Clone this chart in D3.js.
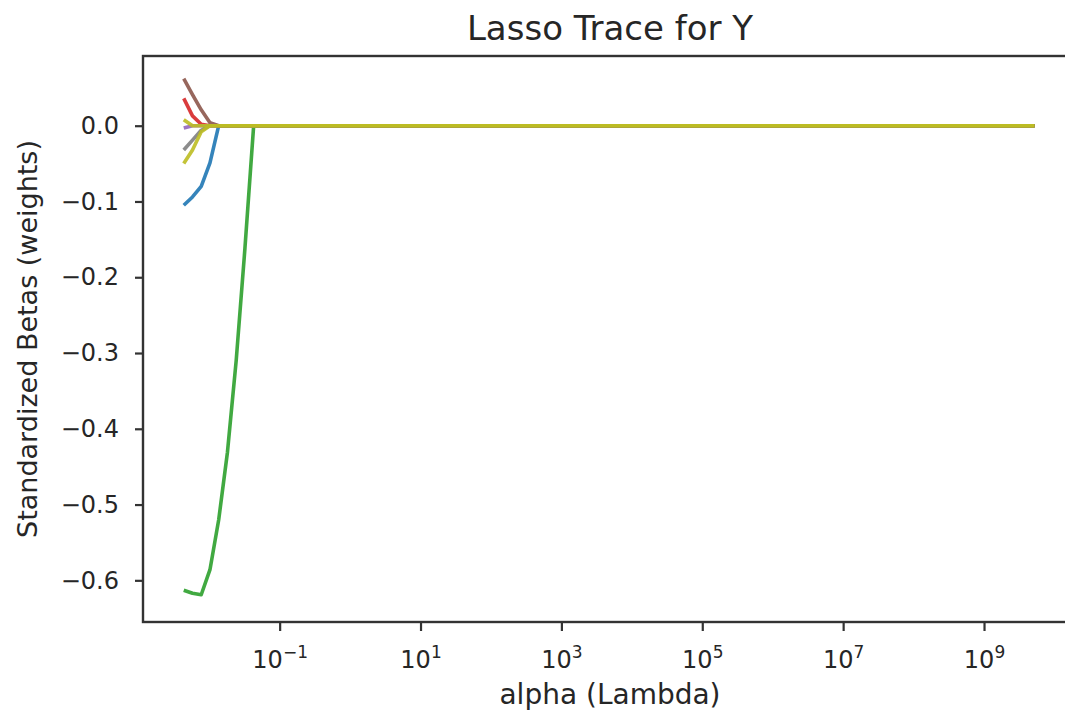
<!DOCTYPE html>
<html>
<head>
<meta charset="utf-8">
<script src="https://cdn.jsdelivr.net/npm/d3@7"></script>
<style>
    body { margin: 0; background: #fff; }
    svg { font-family: "DejaVu Sans", sans-serif; }
</style>
</head>
<body>
<div id="chart"></div>
<script>
// alpha values where the coefficient paths were read
let alphas = [0.00435, 0.00579, 0.0077, 0.01025, 0.01364, 0.01815, 0.02415, 0.03214, 0.04277, 0.0757, 5.2e9]

// coefficient paths (one per predictor that moves off zero), in plot order
let betaBlue   = [-0.105, -0.094, -0.080, -0.049, 0, 0, 0, 0, 0, 0, 0]
let betaGreen  = [-0.613, -0.617, -0.619, -0.586, -0.520, -0.431, -0.310, -0.162, 0, 0, 0]
let betaRed    = [0.036, 0.013, 0.002, 0, 0, 0, 0, 0, 0, 0, 0]
let betaPurple = [-0.003, 0, 0, 0, 0, 0, 0, 0, 0, 0, 0]
let betaBrown  = [0.062, 0.041, 0.021, 0.004, 0, 0, 0, 0, 0, 0, 0]
let betaGray   = [-0.032, -0.019, -0.006, 0, 0, 0, 0, 0, 0, 0, 0]
let betaOliveA = [0.008, 0, 0, 0, 0, 0, 0, 0, 0, 0, 0]
let betaOliveB = [-0.050, -0.032, -0.008, 0, 0, 0, 0, 0, 0, 0, 0]

let series = [
    { values: betaBlue, color: "#1f77b4" },
    { values: betaGreen, color: "#2ca02c" },
    { values: betaRed, color: "#d62728" },
    { values: betaPurple, color: "#9467bd" },
    { values: betaBrown, color: "#8c564b" },
    { values: betaGray, color: "#7f7f7f" },
    { values: betaOliveA, color: "#bcbd22" },
    { values: betaOliveB, color: "#bcbd22" }
]

let yTicks = [0, -0.1, -0.2, -0.3, -0.4, -0.5, -0.6]
let xTickExps = [-1, 1, 3, 5, 7, 9]

const width = 1065
const height = 711
const plotLeft = 143, plotRight = 1077, plotTop = 56, plotBottom = 622

const svg = d3.select('#chart')
    .append('svg')
    .attr('width', width)
    .attr('height', height)

const xScale = d3.scaleLog()
    .domain([Math.pow(10, -2.94), Math.pow(10, 10.32)])
    .range([plotLeft, plotRight])

const yScale = d3.scaleLinear()
    .domain([-0.655, 0.092])
    .range([plotBottom, plotTop])

// lines
const line = d3.line()
    .x((d, i) => xScale(alphas[i]))
    .y(d => yScale(d))

svg.append('g')
    .attr('class', 'lines')
    .selectAll('path')
    .data(series)
    .join('path')
    .attr('d', d => line(d.values))
    .attr('fill', 'none')
    .attr('stroke', d => d.color)
    .attr('stroke-width', 3.6)
    .attr('stroke-linejoin', 'round')
    .attr('stroke-opacity', 0.9)

// y axis
const yAxis = d3.axisLeft(yScale)
    .tickValues(yTicks)
    .tickFormat(d3.format('.1f'))
    .tickSize(8)
    .tickPadding(16)

const yAxisDraw = svg.append('g')
    .attr('transform', `translate(${plotLeft}, 0)`)
    .call(yAxis)
yAxisDraw.select('.domain').remove()
yAxisDraw.selectAll('.tick line').attr('stroke', '#333').attr('stroke-width', 2.2)
yAxisDraw.selectAll('.tick text')
    .attr('font-size', 24)
    .attr('font-family', 'DejaVu Sans')
    .attr('fill', '#262626')

// x axis
const xAxis = d3.axisBottom(xScale)
    .tickValues(xTickExps.map(e => Math.pow(10, e)))
    .tickFormat(() => '')
    .tickSize(9)

const xAxisDraw = svg.append('g')
    .attr('transform', `translate(0, ${plotBottom})`)
    .call(xAxis)
xAxisDraw.select('.domain').remove()
xAxisDraw.selectAll('.tick line').attr('stroke', '#333').attr('stroke-width', 2.2)

const xLabels = xAxisDraw.selectAll('.tick text')
    .text(null)
    .attr('y', 46)
    .attr('dy', null)
    .attr('font-size', 24)
    .attr('font-family', 'DejaVu Sans')
    .attr('fill', '#262626')
    .attr('text-anchor', 'middle')
xLabels.append('tspan').text('10')
xLabels.append('tspan')
    .attr('font-size', 17)
    .attr('dy', -10)
    .text((d, i) => String(xTickExps[i]).replace('-', '\u2212'))

// frame
svg.append('rect')
    .attr('x', plotLeft)
    .attr('y', plotTop)
    .attr('width', plotRight - plotLeft)
    .attr('height', plotBottom - plotTop)
    .attr('fill', 'none')
    .attr('stroke', '#333')
    .attr('stroke-width', 2.4)

// title and labels
svg.append('text')
    .text('Lasso Trace for Y')
    .attr('x', (plotLeft + plotRight) / 2)
    .attr('y', 40)
    .attr('text-anchor', 'middle')
    .attr('font-size', 34)
    .attr('fill', '#262626')

svg.append('text')
    .text('alpha (Lambda)')
    .attr('x', (plotLeft + plotRight) / 2)
    .attr('y', 704)
    .attr('text-anchor', 'middle')
    .attr('font-size', 28)
    .attr('fill', '#262626')

svg.append('text')
    .text('Standardized Betas (weights)')
    .attr('transform', `translate(37, ${(plotTop + plotBottom) / 2}) rotate(-90)`)
    .attr('text-anchor', 'middle')
    .attr('font-size', 27)
    .attr('fill', '#262626')
</script>
</body>
</html>
